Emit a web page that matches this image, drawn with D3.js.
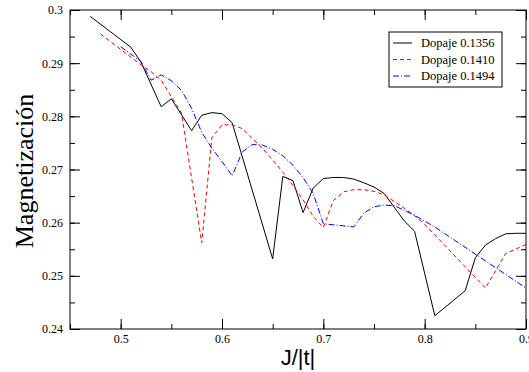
<!DOCTYPE html>
<html>
<head>
<meta charset="utf-8">
<script src="https://cdn.jsdelivr.net/npm/d3@7"></script>
<style>
  html, body { margin: 0; padding: 0; background: #fff; }
  svg { display: block; }
</style>
</head>
<body>
<svg id="chart" width="529" height="372"></svg>
<script>
// Magnetization vs J/|t| for three doping levels
const seriesNames = ["Dopaje 0.1356", "Dopaje 0.1410", "Dopaje 0.1494"];

const jBlack = [0.47, 0.51, 0.52, 0.54, 0.55, 0.57, 0.58, 0.59, 0.60, 0.61, 0.65, 0.66, 0.67, 0.68, 0.69, 0.70, 0.71, 0.72, 0.73, 0.74, 0.75, 0.76, 0.78, 0.79, 0.81, 0.84, 0.85, 0.86, 0.87, 0.88, 0.89, 0.90];
const mBlack = [0.2988, 0.2930, 0.2902, 0.2818, 0.2833, 0.2773, 0.2802, 0.2807, 0.2805, 0.2788, 0.2532, 0.2687, 0.2679, 0.2619, 0.2665, 0.2683, 0.2685, 0.2685, 0.2682, 0.2675, 0.2667, 0.2655, 0.2603, 0.2584, 0.2425, 0.2472, 0.2534, 0.2558, 0.2570, 0.2579, 0.2580, 0.2580];

const jRed = [0.48, 0.52, 0.53, 0.54, 0.55, 0.56, 0.58, 0.59, 0.60, 0.61, 0.62, 0.63, 0.64, 0.65, 0.66, 0.67, 0.68, 0.69, 0.70, 0.71, 0.72, 0.73, 0.74, 0.75, 0.76, 0.77, 0.78, 0.79, 0.80, 0.86, 0.88, 0.90];
const mRed = [0.2955, 0.2897, 0.2884, 0.2868, 0.2837, 0.2806, 0.2562, 0.2760, 0.2784, 0.2784, 0.2777, 0.2758, 0.2740, 0.2718, 0.2695, 0.2670, 0.2643, 0.2612, 0.2591, 0.2642, 0.2658, 0.2662, 0.2662, 0.2659, 0.2652, 0.2640, 0.2627, 0.2613, 0.2597, 0.2477, 0.2542, 0.2559];

const jBlue = [0.50, 0.52, 0.53, 0.54, 0.55, 0.56, 0.57, 0.58, 0.59, 0.60, 0.61, 0.62, 0.63, 0.64, 0.65, 0.66, 0.67, 0.68, 0.69, 0.70, 0.71, 0.72, 0.73, 0.74, 0.75, 0.76, 0.77, 0.78, 0.79, 0.81, 0.90];
const mBlue = [0.2931, 0.2903, 0.2868, 0.2878, 0.2867, 0.2849, 0.2815, 0.2770, 0.2740, 0.2715, 0.2688, 0.2733, 0.2747, 0.2746, 0.2738, 0.2726, 0.2708, 0.2685, 0.2655, 0.2598, 0.2596, 0.2594, 0.2592, 0.2618, 0.2630, 0.2633, 0.2632, 0.2623, 0.2614, 0.2592, 0.2477];

const xMajorTicks = [0.5, 0.6, 0.7, 0.8, 0.9];
const xTickLabels = ["0.5", "0.6", "0.7", "0.8", "0.9"];
const yMajorTicks = [0.24, 0.25, 0.26, 0.27, 0.28, 0.29, 0.30];
const yTickLabels = ["0.24", "0.25", "0.26", "0.27", "0.28", "0.29", "0.3"];

const colors = ["#000000", "#ff0000", "#0000ff"];
const dashes = [null, "4,3", "6,2,1,2"];

const svg = d3.select("#chart");
const plotL = 70, plotR = 526, plotT = 10, plotB = 329;

const x = d3.scaleLinear().domain([0.45, 0.9]).range([plotL, plotR]);
const y = d3.scaleLinear().domain([0.24, 0.30]).range([plotB, plotT]);

const xMinor = d3.range(0.45, 0.9001, 0.05).map(v => +v.toFixed(3));
const yMinor = d3.range(0.24, 0.3001, 0.005).map(v => +v.toFixed(4));

const serif = "'Liberation Serif', 'Times New Roman', serif";

// Ticks drawn inward on all four sides
function addAxis(axisFn, tr, ticks, size, labels) {
  const g = svg.append("g").attr("transform", tr)
    .call(axisFn.tickValues(ticks).tickSize(size).tickSizeOuter(0)
      .tickFormat(labels ? (d, i) => labels[i] : () => ""));
  g.select(".domain").remove();
  g.selectAll(".tick line").attr("stroke", "#000").attr("stroke-width", 1);
  g.selectAll(".tick text").attr("font-family", serif).attr("font-size", 12).attr("fill", "#000");
  return g;
}

// minor
addAxis(d3.axisBottom(x), `translate(0,${plotB})`, xMinor, -5);
addAxis(d3.axisTop(x), `translate(0,${plotT})`, xMinor, -5);
addAxis(d3.axisLeft(y), `translate(${plotL},0)`, yMinor, -5);
addAxis(d3.axisRight(y), `translate(${plotR},0)`, yMinor, -5);
// major
const gx = addAxis(d3.axisBottom(x), `translate(0,${plotB})`, xMajorTicks, -10, xTickLabels);
gx.selectAll(".tick text").attr("y", 14).attr("dy", "0");
addAxis(d3.axisTop(x), `translate(0,${plotT})`, xMajorTicks, -10);
const gy = addAxis(d3.axisLeft(y), `translate(${plotL},0)`, yMajorTicks, -10, yTickLabels);
gy.selectAll(".tick text").attr("x", -7);
addAxis(d3.axisRight(y), `translate(${plotR},0)`, yMajorTicks, -10);

// frame
svg.append("rect")
  .attr("x", plotL).attr("y", plotT)
  .attr("width", plotR - plotL).attr("height", plotB - plotT)
  .attr("fill", "none").attr("stroke", "#000").attr("stroke-width", 1);

// series
const series = [
  { name: seriesNames[0], xs: jBlack, ys: mBlack },
  { name: seriesNames[1], xs: jRed, ys: mRed },
  { name: seriesNames[2], xs: jBlue, ys: mBlue }
];
const line = d3.line().x(d => x(d[0])).y(d => y(d[1]));
svg.append("defs").append("clipPath").attr("id", "plotclip")
  .append("rect").attr("x", plotL).attr("y", plotT).attr("width", plotR - plotL).attr("height", plotB - plotT);

series.forEach((s, i) => {
  svg.append("path")
    .datum(s.xs.map((v, k) => [v, s.ys[k]]))
    .attr("d", line)
    .attr("clip-path", "url(#plotclip)")
    .attr("fill", "none")
    .attr("stroke", colors[i])
    .attr("stroke-width", 1)
    .attr("stroke-dasharray", dashes[i]);
});

// legend
const lg = svg.append("g").attr("transform", "translate(389,32)");
lg.append("rect").attr("width", 113).attr("height", 55)
  .attr("fill", "#fff").attr("stroke", "#000").attr("stroke-width", 1);
seriesNames.forEach((n, i) => {
  const yy = 11 + i * 16.5;
  lg.append("line").attr("x1", 4).attr("x2", 23).attr("y1", yy).attr("y2", yy)
    .attr("stroke", colors[i]).attr("stroke-width", 1).attr("stroke-dasharray", dashes[i]);
  lg.append("text").attr("x", 32).attr("y", yy + 4)
    .attr("font-family", serif).attr("font-size", 12.5).text(n);
});

// axis titles
svg.append("text")
  .attr("x", 298).attr("y", 365)
  .attr("text-anchor", "middle")
  .attr("font-family", "'Liberation Sans', Arial, sans-serif")
  .attr("font-size", 22)
  .text("J/|t|");

svg.append("text")
  .attr("transform", "translate(33,171) rotate(-90)")
  .attr("text-anchor", "middle")
  .attr("font-family", serif)
  .attr("font-size", 26)
  .text("Magnetización");
</script>
</body>
</html>
